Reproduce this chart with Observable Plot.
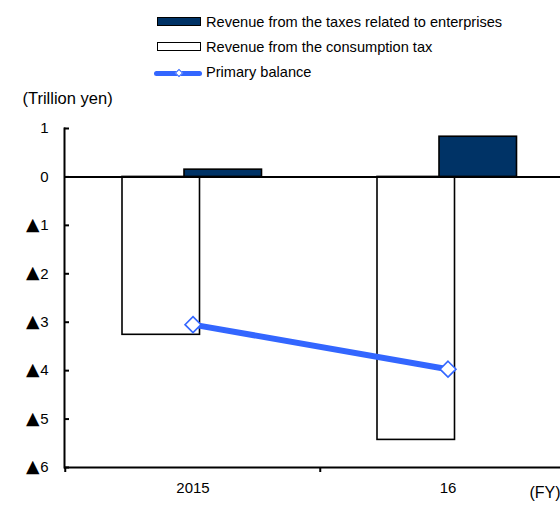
<!DOCTYPE html>
<html>
<head>
<meta charset="utf-8">
<script src="https://cdn.jsdelivr.net/npm/d3@7"></script>
<script src="https://cdn.jsdelivr.net/npm/@observablehq/plot@0.6"></script>
<style>
  html, body { margin: 0; padding: 0; overflow: hidden; background: white; }
  #wrap { position: relative; width: 560px; height: 505px; font-family: "Liberation Sans", Arial, sans-serif; }
  .lg { position: absolute; left: 154px; height: 20px; font-size: 14.6px; line-height: 20px; color: #000; white-space: nowrap; }
  .sw { position: absolute; box-sizing: border-box; }
  .lbl { position: absolute; left: 52px; top: 0; }
</style>
</head>
<body>
<div id="wrap"></div>
<script>
const years = ["2015", "16"];
const enterpriseTax = [0.15, 0.83];
const consumptionTax = [-3.26, -5.43];
const primaryBalance = [-3.05, -3.97];
const yTicks = [1, 0, -1, -2, -3, -4, -5, -6];
const negMark = "▲";
const seriesNames = ["Revenue from the taxes related to enterprises", "Revenue from the consumption tax", "Primary balance"];
const unitY = "(Trillion yen)";
const unitX = "(FY)";

const navy = "#003366";
const blue = "#3366FF";

const W = 560, H = 505, mL = 64, mR = -15, mT = 128, mB = 38;
const bw = (W - mL - mR) / years.length;

const ent = years.map((y, i) => ({year: y, value: enterpriseTax[i]}));
const con = years.map((y, i) => ({year: y, value: consumptionTax[i]}));
const pb = years.map((y, i) => ({year: y, value: primaryBalance[i]}));

const chart = Plot.plot({
  width: W, height: H,
  marginLeft: mL, marginRight: mR, marginTop: mT, marginBottom: mB,
  style: {fontFamily: "'Liberation Sans', Arial, sans-serif", fontSize: "15px", background: "white", color: "black", overflow: "hidden"},
  x: {type: "band", domain: years, padding: 0, axis: null},
  y: {domain: [-6, 1], axis: null},
  marks: [
    Plot.barY(con, {x: "year", y: "value", fill: "white", stroke: "black", strokeWidth: 1.6, insetLeft: 57, insetRight: bw - 57 - 78}),
    Plot.barY(ent, {x: "year", y: "value", fill: navy, stroke: "black", strokeWidth: 1.6, insetLeft: 119, insetRight: bw - 119 - 78}),
    Plot.ruleY([0], {stroke: "black", strokeWidth: 2}),
    Plot.ruleY([-6], {stroke: "black", strokeWidth: 2}),
    Plot.frame({anchor: "left", stroke: "black", strokeWidth: 2}),
    Plot.tickY(yTicks, {y: d => d, stroke: "black", strokeWidth: 2, insetRight: (W - mL - mR) - 5}),
    // y tick labels: number part and the ▲ (negative) mark
    Plot.text(yTicks, {y: d => d, text: d => String(Math.abs(d)), frameAnchor: "left", dx: -16, textAnchor: "end", fontSize: 15}),
    Plot.text(yTicks.filter(d => d < 0), {y: d => d, text: () => negMark, frameAnchor: "left", dx: -25, dy: -1, textAnchor: "end", fontSize: 17.5, fontFamily: "DejaVu Sans"}),
    Plot.axisX({tickSize: 0, tickPadding: 15, fontSize: 15, anchor: "bottom", label: null}),
    Plot.ruleX(years, {x: d => d, dx: -bw / 2, y1: -6, y2: -6, insetBottom: -5, stroke: "black", strokeWidth: 2}),
    Plot.line(pb, {x: "year", y: "value", stroke: blue, strokeWidth: 6}),
    Plot.dot(pb, {x: "year", y: "value", symbol: "diamond2", r: 7.2, fill: "white", stroke: blue, strokeWidth: 1.6}),
    Plot.text([unitY], {frameAnchor: "top-left", text: d => d, dx: -42, dy: -36, textAnchor: "start", fontSize: 16.5}),
    Plot.text([unitX], {frameAnchor: "bottom-left", text: d => d, dx: 465, dy: 30, textAnchor: "start", fontSize: 16})
  ]
});

const wrap = document.getElementById("wrap");
wrap.appendChild(chart);

// legend (HTML overlay at top)
const legendRows = [
  {name: seriesNames[0], top: 12, kind: "bar", fill: navy},
  {name: seriesNames[1], top: 37, kind: "bar", fill: "white"},
  {name: seriesNames[2], top: 62, kind: "line", fill: blue}
];
for (const r of legendRows) {
  const row = document.createElement("div");
  row.className = "lg";
  row.style.top = r.top + "px";
  row.style.width = "380px";
  if (r.kind === "bar") {
    const s = document.createElement("div");
    s.className = "sw";
    s.style.left = "3px"; s.style.top = "5px"; s.style.width = "44px"; s.style.height = "8.5px";
    s.style.background = r.fill; s.style.border = "1.6px solid black";
    row.appendChild(s);
  } else {
    const s = document.createElement("div");
    s.className = "sw";
    s.style.left = "0px"; s.style.top = "8.5px"; s.style.width = "48px"; s.style.height = "5px";
    s.style.background = r.fill; s.style.borderRadius = "2.5px";
    row.appendChild(s);
    const d = document.createElement("div");
    d.className = "sw";
    d.style.left = "21.5px"; d.style.top = "7.5px"; d.style.width = "6px"; d.style.height = "6px";
    d.style.background = "white"; d.style.border = "1px solid " + blue; d.style.transform = "rotate(45deg)";
    row.appendChild(d);
  }
  const t = document.createElement("span");
  t.className = "lbl";
  t.textContent = r.name;
  row.appendChild(t);
  wrap.appendChild(row);
}
</script>
</body>
</html>
